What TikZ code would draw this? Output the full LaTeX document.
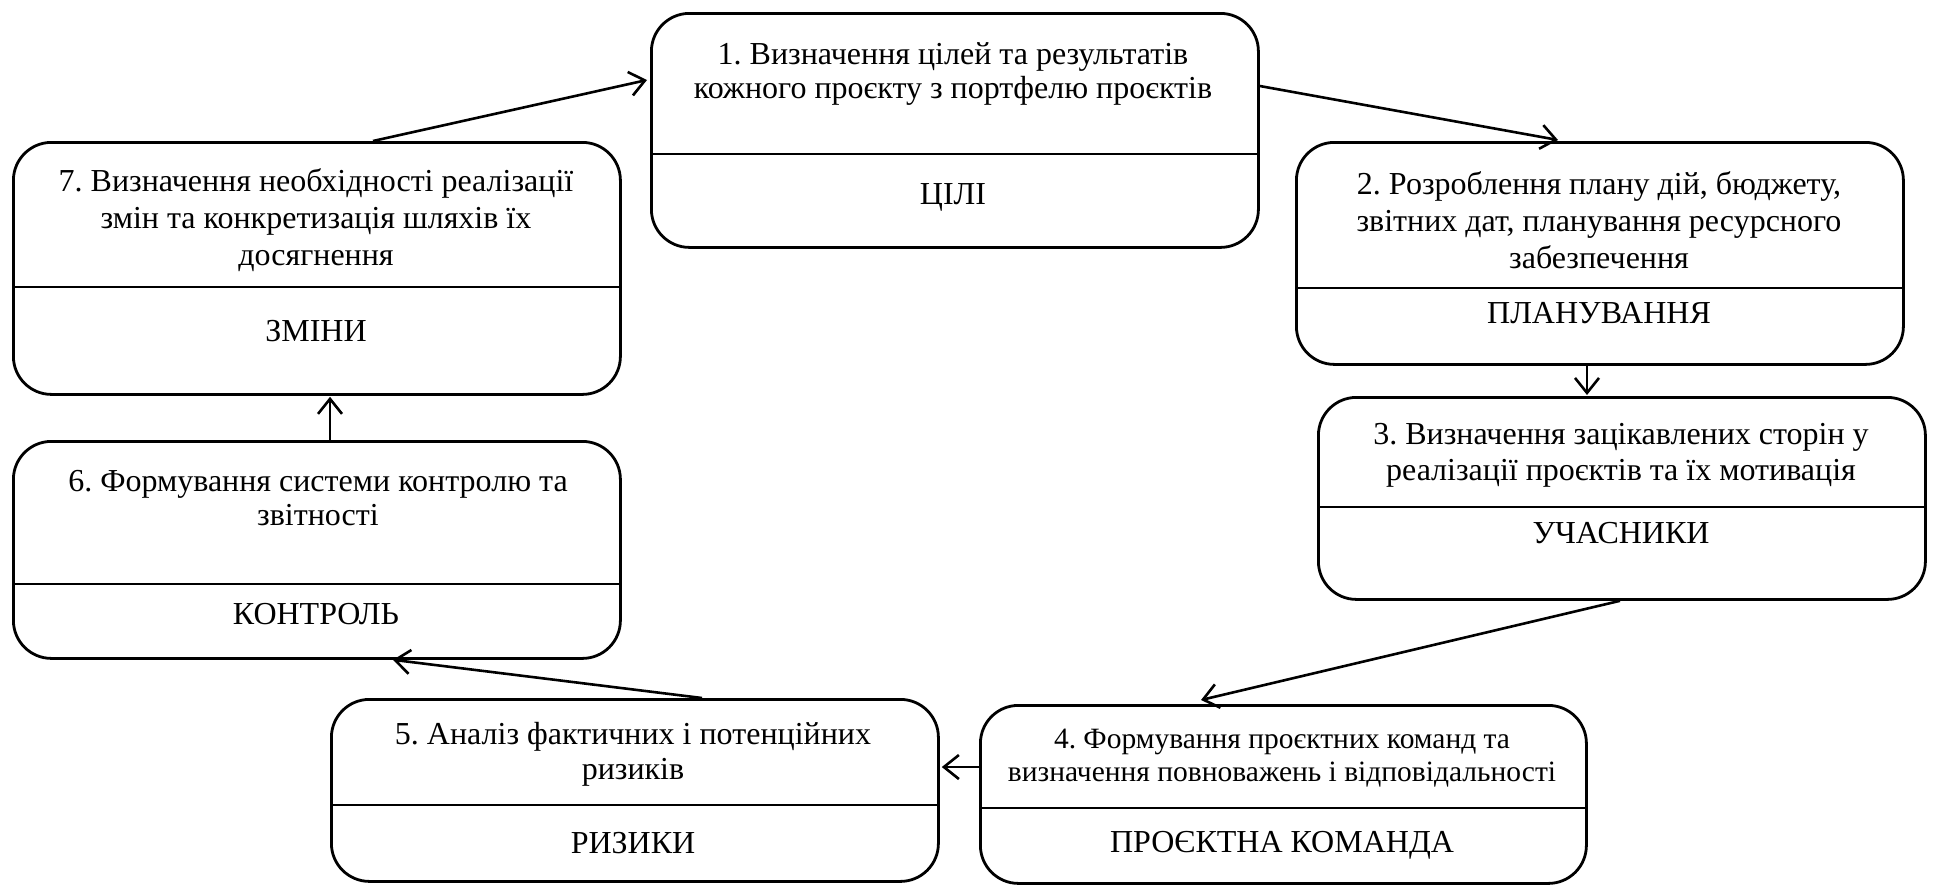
\documentclass[tikz,border=0pt]{standalone}
\usepackage{fontspec}
\setmainfont{Liberation Serif}
\usetikzlibrary{arrows.meta,calc}
\frenchspacing

\tikzset{
  stagebox/.style={draw, line width=2.8pt, rounded corners=38pt, anchor=north west,
    inner sep=0pt, minimum width=607pt},
  divider/.style={line width=1.6pt},
  steptext/.style={align=center, inner sep=0pt, font=\fontsize{32}{#1}\selectfont\frenchspacing},
  steptext/.default=37,
  headtext/.style={inner sep=0pt, font=\fontsize{32}{37}\selectfont},
  flow/.style={line width=2.6pt, -{Straight Barb[length=15pt, width=24pt, line width=2.6pt]}},
}

\begin{document}
\begin{tikzpicture}[x=1pt, y=-1pt]
  \fill[white] (0,0) rectangle (1937,884);
  \useasboundingbox (0,0) rectangle (1937,884);

  % stage boxes
  \node[stagebox, minimum height=234pt] (b1) at (650,12)  {};
  \node[stagebox, minimum height=222pt] (b2) at (1295,141) {};
  \node[stagebox, minimum height=202pt] (b3) at (1317,396) {};
  \node[stagebox, minimum height=178pt, minimum width=606pt] (b4) at (979,704) {};
  \node[stagebox, minimum height=182pt] (b5) at (330,698) {};
  \node[stagebox, minimum height=217pt] (b6) at (12,440)  {};
  \node[stagebox, minimum height=252pt] (b7) at (12,141)  {};

  % dividers between description and heading
  \draw[divider] ($(b1.north west)+(0,142)$) -- ($(b1.north east)+(0,142)$);
  \draw[divider] ($(b2.north west)+(0,147)$) -- ($(b2.north east)+(0,147)$);
  \draw[divider] ($(b3.north west)+(0,111)$) -- ($(b3.north east)+(0,111)$);
  \draw[divider] ($(b4.north west)+(0,104)$) -- ($(b4.north east)+(0,104)$);
  \draw[divider] ($(b5.north west)+(0,107)$) -- ($(b5.north east)+(0,107)$);
  \draw[divider] ($(b6.north west)+(0,144)$) -- ($(b6.north east)+(0,144)$);
  \draw[divider] ($(b7.north west)+(0,146)$) -- ($(b7.north east)+(0,146)$);

  % descriptions
  \node[steptext=34] (d1) at (953,74)  {1. Визначення цілей та результатів\\кожного проєкту з портфелю проєктів};
  \node[steptext=37] (d2) at (1599,220) {2. Розроблення плану дій, бюджету,\\звітних дат, планування ресурсного\\забезпечення};
  \node[steptext=36] (d3) at (1621,455) {3. Визначення зацікавлених сторін у\\реалізації проєктів та їх мотивація};
  \node[align=center, inner sep=0pt, font=\fontsize{29.5}{33}\selectfont\frenchspacing] (d4) at (1282,758) {4. Формування проєктних команд та\\визначення повноважень і відповідальності};
  \node[steptext=35] (d5) at (633,754)  {5. Аналіз фактичних і потенційних\\ризиків};
  \node[steptext=34] (d6) at (318,498)  {6. Формування системи контролю та\\звітності};
  \node[steptext=37] (d7) at (316,220)  {7. Визначення необхідності реалізації\\змін та конкретизація шляхів їх\\досягнення};

  % headings
  \node[headtext] (h1) at (953,197)  {ЦІЛІ};
  \node[headtext] (h2) at (1599,313) {ПЛАНУВАННЯ};
  \node[headtext] (h3) at (1621,533) {УЧАСНИКИ};
  \node[headtext] (h4) at (1282,845) {ПРОЄКТНА КОМАНДА};
  \node[headtext] (h5) at (633,843)  {РИЗИКИ};
  \node[headtext] (h6) at (316,614)  {КОНТРОЛЬ};
  \node[headtext] (h7) at (316,331)  {ЗМІНИ};

  % cycle connectors
  \draw[flow] ($(b7.north west)+(361,0)$) -- ($(b1.north west)+(-3,68)$);
  \draw[flow] ($(b1.north east)+(0,74)$)  -- ($(b2.north west)+(263,-1)$);
  \draw[flow] ($(b2.south west)+(292,0)$) -- ($(b3.north west)+(270,-1)$);
  \draw[flow] ($(b3.south west)+(303,0)$) -- ($(b4.north west)+(222,-4)$);
  \draw[flow] ($(b4.north west)+(0,63)$)  -- ($(b5.north east)+(2,69)$);
  \draw[flow] ($(b5.north west)+(372,0)$) -- ($(b6.south west)+(381,0)$);
  \draw[flow] ($(b6.north west)+(318,0)$) -- ($(b7.south west)+(318,1)$);
\end{tikzpicture}
\end{document}
